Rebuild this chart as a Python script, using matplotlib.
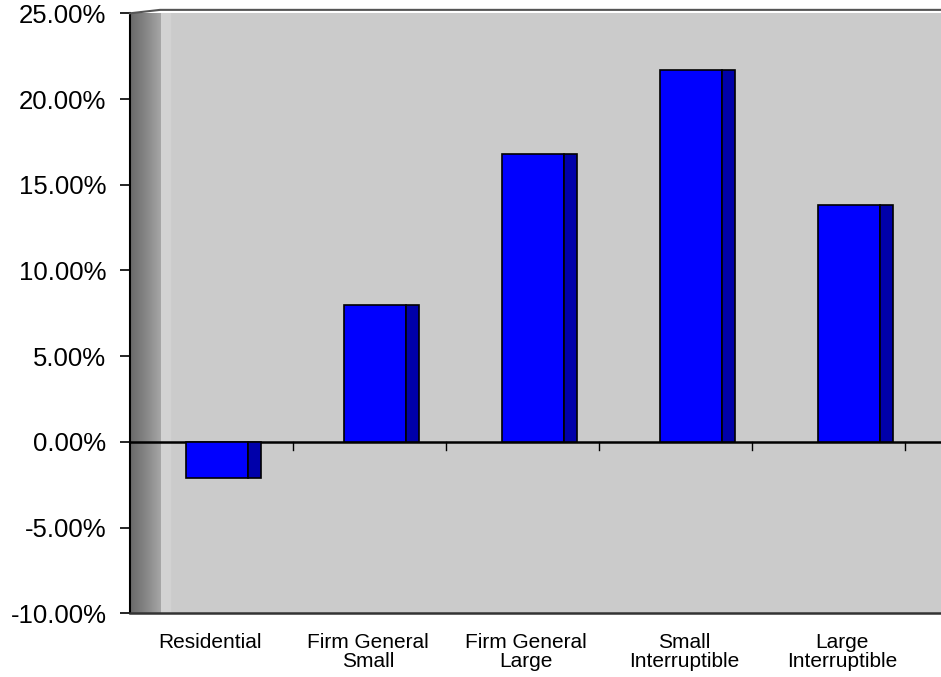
import matplotlib.pyplot as plt
import numpy as np

plt.rcParams['font.family'] = ['Liberation Sans', 'DejaVu Sans']

categories = ['Residential', 'Firm General\nSmall', 'Firm General\nLarge',
              'Small\nInterruptible', 'Large\nInterruptible']
values = [-2.1, 8.0, 16.8, 21.7, 13.8]
yticks = [-10, -5, 0, 5, 10, 15, 20, 25]

fig = plt.figure(figsize=(9.41, 6.77), dpi=100)
ax = fig.add_axes([130 / 941, 1 - 613.3 / 677, 811 / 941, 600 / 677])

x = np.arange(len(categories))
x0 = -80 / 158
x1 = x0 + 811 / 158

# back wall
ax.set_facecolor('#c8c8c8')
ax.axvspan(x0 + 33 / 158, x1, color='#cbcbcb', zorder=0)
ax.axvspan(x0 + 31 / 158, x0 + 40 / 158, color='#d2d2d2', zorder=0.2)
# left side wall, darker gradient
grad = np.linspace(0.0, 1.0, 64).reshape(1, -1)
ax.imshow(grad, extent=[x0, x0 + 31 / 158, -10, 25], aspect='auto',
          cmap=plt.matplotlib.colors.LinearSegmentedColormap.from_list(
              'wall', ['#6a6a6a', '#858585', '#a6a6a6']), zorder=0.5)
ax.set_xlim(x0, x1)
ax.set_ylim(-10, 25)

# top edge of the wall
ax.plot([x0, x0 + 30 / 158, x1], [25, 25.2, 25.2], color='#555555', lw=1.5,
        clip_on=False, zorder=3)

# zero line with category ticks
ax.axhline(0, color='black', lw=1.8, zorder=2)
bounds = x0 + (163 + 153 * np.arange(5)) / 158
for b in bounds:
    ax.plot([b, b], [0, -0.5], color='black', lw=1, zorder=2)

# bars: front face and darker side face
front_w = 62 / 158
side_w = 13 / 158
off = -24 / 158
ax.bar(x + off, values, width=front_w, align='edge', color='#0000ff',
       edgecolor='black', linewidth=1.2, zorder=3)
ax.bar(x + off + front_w, values, width=side_w, align='edge', color='#0000aa',
       edgecolor='black', linewidth=1.2, zorder=3)

ax.set_yticks(yticks)
ax.set_yticklabels([f'{v:.2f}%' for v in yticks], fontsize=18.5)
ax.tick_params(axis='y', length=7, width=1.2, pad=10, direction='out')

ax.set_xticks(x)
ax.set_xticklabels(categories, fontsize=15, linespacing=1.05)
ax.tick_params(axis='x', length=0, pad=14)

for s in ['top', 'right']:
    ax.spines[s].set_visible(False)
ax.spines['left'].set_linewidth(1.5)
ax.spines['bottom'].set_linewidth(1.8)
ax.spines['bottom'].set_color('#333333')

fig.savefig('out.png', dpi=100)
